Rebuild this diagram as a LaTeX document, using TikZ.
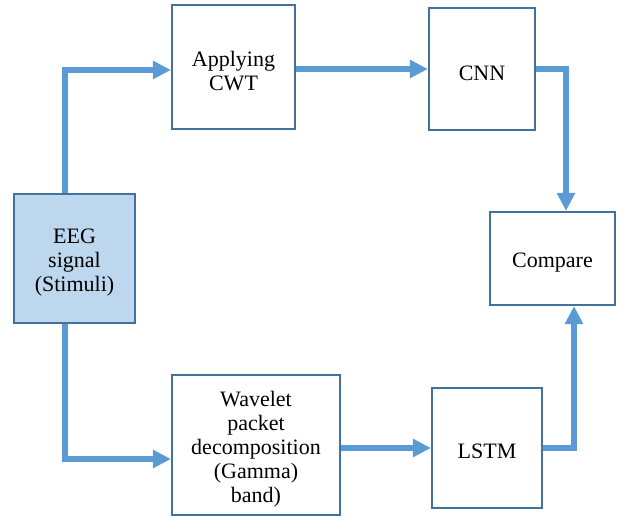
\documentclass[tikz,border=0pt]{standalone}
\usepackage{fontspec}
\setmainfont{Liberation Serif}
\usetikzlibrary{arrows.meta}
\usetikzlibrary{positioning}
\definecolor{flowblue}{HTML}{5B9BD5}
\definecolor{edgeblue}{HTML}{41719C}
\definecolor{fillblue}{HTML}{BDD7EE}
\def\px{0.75pt}
\tikzset{box/.style = {draw = edgeblue, line width = 1.6pt, rectangle, inner sep = 0}}
\tikzset{txt/.style = {align = center, inner sep = 0, font = \fontsize{16.5}{18}\selectfont}}
\tikzset{flow/.style = {draw = flowblue, line width = 4.2pt,
                        -{Triangle[length = 13.5pt, width = 13pt]}}}

\begin{document}
\begin{tikzpicture}[x = \px, y = -\px]
    \useasboundingbox (0, 0) rectangle (624, 523);

    \node [box, fill = fillblue, minimum width = 121*\px, minimum height = 129*\px]
        (eeg) at (74.5, 258.5) {};
    \node [box, minimum width = 123*\px, minimum height = 124*\px]
        (cwt) at (233.5, 67) {};
    \node [box, minimum width = 106*\px, minimum height = 122*\px]
        (cnn) at (482, 69) {};
    \node [box, minimum width = 125*\px, minimum height = 93*\px]
        (cmp) at (552.5, 258.5) {};
    \node [box, minimum width = 168*\px, minimum height = 140*\px]
        (wpd) at (256, 445) {};
    \node [box, minimum width = 110*\px, minimum height = 120*\px]
        (lstm) at (487, 448) {};

    % text sits a little below the middle of each box
    \node [txt] (eeg-t) at ([yshift = -4*\px]eeg.center) {EEG\\signal\\(Stimuli)};
    \node [txt] (cwt-t) at ([yshift = -4*\px]cwt.center) {Applying\\CWT};
    \node [txt] (cnn-t) at ([yshift = -4*\px]cnn.center) {CNN};
    \node [txt] (cmp-t) at ([yshift = -4*\px]cmp.center) {Compare};
    \node [txt] (wpd-t) at ([yshift = -4*\px]wpd.center)
        {Wavelet\\packet\\decomposition\\(Gamma)\\band)};
    \node [txt] (lstm-t) at ([yshift = -3*\px]lstm.center) {LSTM};

    % upper branch
    \draw [flow] ([xshift = -9.5*\px]eeg.north) |- ([yshift = -3*\px]cwt.west);
    \draw [flow] ([yshift = -2*\px]cwt.east) -- (cnn.west);
    \draw [flow] (cnn.east) -| ([xshift = 13.5*\px]cmp.north);

    % lower branch
    \draw [flow] ([xshift = -9.5*\px]eeg.south) |- ([yshift = -14*\px]wpd.west);
    \draw [flow] ([yshift = -3*\px]wpd.east) -- (lstm.west);
    \draw [flow] (lstm.east) -| ([xshift = 21.5*\px]cmp.south);
\end{tikzpicture}
\end{document}
